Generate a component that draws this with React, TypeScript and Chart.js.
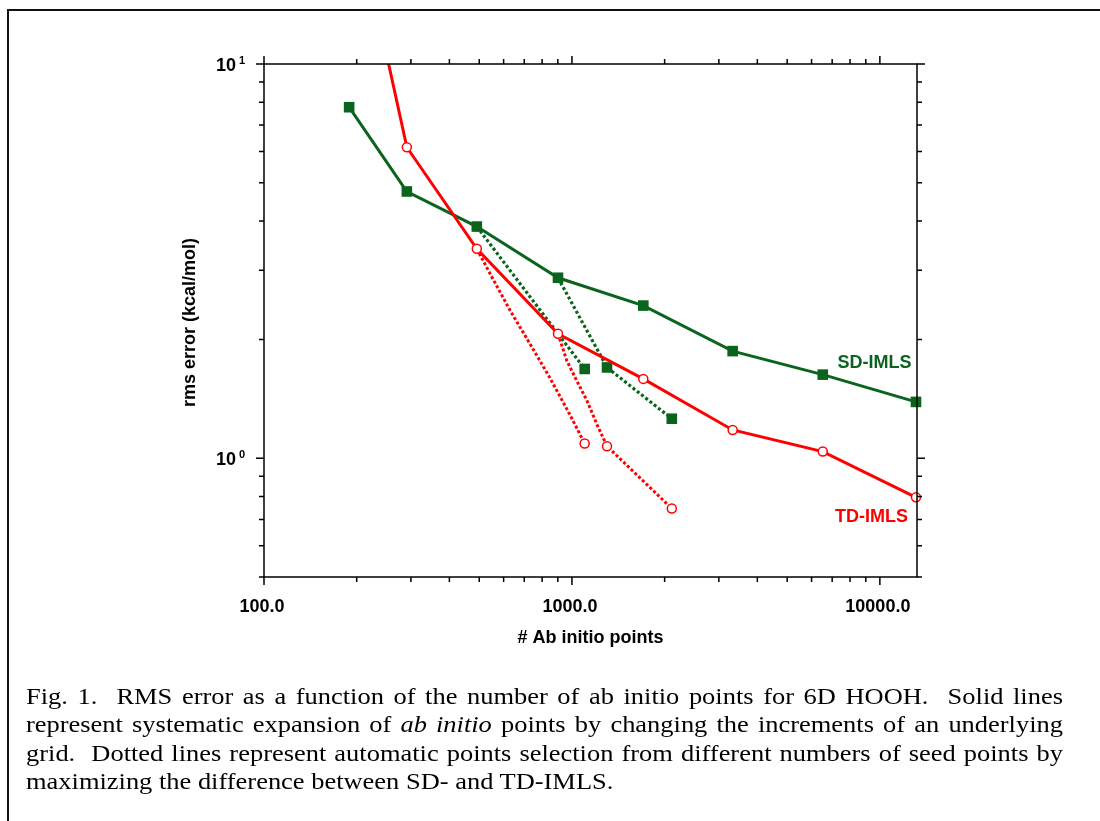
import React, { useEffect, useRef } from "react";
import { Chart, registerables } from "chart.js";

Chart.register(...registerables);

// ---------- data ----------
const gridPointsX = [189, 291, 491, 901, 1705, 3326, 6525, 13100];
const sdGridRms = [7.77, 4.75, 3.87, 2.87, 2.44, 1.87, 1.63, 1.39];
const tdGridRms = [28.7, 6.15, 3.4, 2.07, 1.59, 1.18, 1.04, 0.796];

// automatic selection from 491 seed points
const sdSeedAX = [491, 1100];
const sdSeedARms = [3.87, 1.685];
const tdSeedAX = [491, 542, 630, 731, 848, 985, 1100];
const tdSeedARms = [3.4, 2.94, 2.37, 1.95, 1.6, 1.29, 1.09];
const tdSeedAMarked = [0, 0, 0, 0, 0, 0, 1];

// automatic selection from 901 seed points
const sdSeedBX = [901, 1300, 2110];
const sdSeedBRms = [2.87, 1.7, 1.26];
const tdSeedBX = [901, 963, 1038, 1119, 1205, 1300, 2110];
const tdSeedBRms = [2.07, 1.766, 1.57, 1.4, 1.22, 1.073, 0.746];
const tdSeedBMarked = [0, 0, 0, 0, 0, 1, 1];

const xTickValues = [100, 1000, 10000];
const xTickLabels = ["100.0", "1000.0", "10000.0"];
const yTickValues = [1, 10];
const yTickExponents = ["0", "1"];

const seriesNames = ["SD-IMLS", "TD-IMLS"];
const seriesLabelAt = [
  [9600, 1.745],
  [9400, 0.708],
];

const xTitle = "# Ab initio points";
const yTitle = "rms error (kcal/mol)";

const X_MIN = 100;
const X_MAX = 13200;
const Y_MIN = 0.5;
const Y_MAX = 10;

const GREEN = "#0a641e";
const RED = "#ff0000";
const FONT = "'Liberation Sans', Arial, Helvetica, sans-serif";

const pts = (xs: number[], ys: number[]) => xs.map((x, i) => ({ x, y: ys[i] }));

const frameAxesPlugin = {
  id: "frameAxes",
  afterDatasetsDraw(chart: any) {
    const { ctx, chartArea, scales } = chart;
    const { left, right, top, bottom } = chartArea;
    const xs = scales.x;
    const ys = scales.y;
    ctx.save();
    ctx.strokeStyle = "#000";
    ctx.lineWidth = 1.5;
    ctx.beginPath();
    ctx.rect(left, top, right - left, bottom - top);
    ctx.stroke();

    // x ticks (outward, top and bottom)
    ctx.beginPath();
    for (let d = 100; d <= 10000; d *= 10) {
      for (let m = 1; m <= 9; m++) {
        const v = d * m;
        if (v < X_MIN - 1e-9 || v > X_MAX) continue;
        const px = xs.getPixelForValue(v);
        const len = m === 1 ? 8 : 5;
        ctx.moveTo(px, bottom);
        ctx.lineTo(px, bottom + len);
        ctx.moveTo(px, top);
        ctx.lineTo(px, top - len);
      }
    }
    // y ticks (outward, left and right)
    for (let d = 0.1; d <= 10; d *= 10) {
      for (let m = 1; m <= 9; m++) {
        const v = +(d * m).toPrecision(6);
        if (v < Y_MIN - 1e-9 || v > Y_MAX + 1e-9) continue;
        const py = ys.getPixelForValue(v);
        const len = m === 1 ? 8 : 5;
        ctx.moveTo(left, py);
        ctx.lineTo(left - len, py);
        ctx.moveTo(right, py);
        ctx.lineTo(right + len, py);
      }
    }
    ctx.stroke();

    ctx.fillStyle = "#000";
    // x tick labels
    ctx.font = `bold 18px ${FONT}`;
    ctx.textAlign = "center";
    ctx.textBaseline = "alphabetic";
    xTickValues.forEach((v, i) => {
      ctx.fillText(xTickLabels[i], xs.getPixelForValue(v) - 2, bottom + 35);
    });
    // y tick labels with superscript exponent
    yTickValues.forEach((v, i) => {
      const py = ys.getPixelForValue(v);
      ctx.font = `bold 18px ${FONT}`;
      ctx.textAlign = "right";
      ctx.fillText("10", left - 28, py + 7);
      ctx.font = `bold 11px ${FONT}`;
      ctx.textAlign = "left";
      ctx.fillText(yTickExponents[i], left - 25, py);
    });

    // axis titles
    ctx.font = `bold 18px ${FONT}`;
    ctx.textAlign = "center";
    ctx.textBaseline = "middle";
    ctx.fillText(xTitle, (left + right) / 2, bottom + 61);
    ctx.save();
    ctx.translate(left - 74, (top + bottom) / 2 + 2);
    ctx.rotate(-Math.PI / 2);
    ctx.fillText(yTitle, 0, 0);
    ctx.restore();

    // series labels
    const colors = [GREEN, RED];
    seriesNames.forEach((name, i) => {
      ctx.fillStyle = colors[i];
      ctx.fillText(
        name,
        xs.getPixelForValue(seriesLabelAt[i][0]),
        ys.getPixelForValue(seriesLabelAt[i][1])
      );
    });
    ctx.restore();
  },
};

function ChartCanvas() {
  const ref = useRef<HTMLCanvasElement | null>(null);
  useEffect(() => {
    if (!ref.current) return;
    const markRadius = (flags: number[], r: number) => (c: any) =>
      flags[c.dataIndex] ? r : 0;
    const redPoint = {
      pointStyle: "circle",
      pointBackgroundColor: "#ffffff",
      pointBorderColor: RED,
      pointBorderWidth: 1.5,
    };
    const greenPoint = {
      pointStyle: "rect",
      pointBackgroundColor: GREEN,
      pointBorderColor: GREEN,
      pointBorderWidth: 0,
    };
    const chart = new Chart(ref.current, {
      type: "line",
      data: {
        datasets: [
          {
            label: "TD-IMLS grid",
            data: pts(gridPointsX, tdGridRms),
            borderColor: RED,
            borderWidth: 3,
            pointRadius: 4.5,
            ...redPoint,
            order: 0,
            clip: { left: false, top: 0, right: false, bottom: false },
          } as any,
          {
            label: "TD-IMLS seed 901",
            data: pts(tdSeedBX, tdSeedBRms),
            borderColor: RED,
            borderWidth: 3,
            borderDash: [3, 2.2],
            pointRadius: markRadius(tdSeedBMarked, 4.5),
            ...redPoint,
            order: 1,
            clip: false,
          },
          {
            label: "TD-IMLS seed 491",
            data: pts(tdSeedAX, tdSeedARms),
            borderColor: RED,
            borderWidth: 3,
            borderDash: [3, 2.2],
            pointRadius: markRadius(tdSeedAMarked, 4.5),
            ...redPoint,
            order: 2,
            clip: false,
          },
          {
            label: "SD-IMLS seed 901",
            data: pts(sdSeedBX, sdSeedBRms),
            borderColor: GREEN,
            borderWidth: 3.2,
            borderDash: [3, 2.4],
            pointRadius: (c: any) => (c.dataIndex === 0 ? 0 : 7.5),
            ...greenPoint,
            order: 3,
            clip: false,
          },
          {
            label: "SD-IMLS seed 491",
            data: pts(sdSeedAX, sdSeedARms),
            borderColor: GREEN,
            borderWidth: 3.2,
            borderDash: [3, 2.4],
            pointRadius: (c: any) => (c.dataIndex === 0 ? 0 : 7.5),
            ...greenPoint,
            order: 4,
            clip: false,
          },
          {
            label: "SD-IMLS grid",
            data: pts(gridPointsX, sdGridRms),
            borderColor: GREEN,
            borderWidth: 3,
            pointRadius: 7.5,
            ...greenPoint,
            order: 5,
            clip: false,
          },
        ] as any,
      },
      options: {
        animation: false,
        responsive: false,
        devicePixelRatio: 1,
        layout: { padding: { left: 264, top: 64, right: 183, bottom: 244 } },
        elements: { line: { tension: 0 } },
        scales: {
          x: { type: "logarithmic", min: X_MIN, max: X_MAX, display: false },
          y: { type: "logarithmic", min: Y_MIN, max: Y_MAX, display: false },
        },
        plugins: {
          legend: { display: false },
          tooltip: { enabled: false },
          title: { display: false },
        },
      },
      plugins: [frameAxesPlugin],
    } as any);
    return () => chart.destroy();
  }, []);
  return (
    <canvas
      ref={ref}
      width={1100}
      height={821}
      style={{ position: "absolute", left: 0, top: 0, width: 1100, height: 821 }}
    />
  );
}

const captionLines = [
  "Fig. 1.\u00a0 RMS error as a function of the number of ab initio points for 6D HOOH.\u00a0 Solid lines",
  null,
  "grid.\u00a0 Dotted lines represent automatic points selection from different numbers of seed points by",
  "maximizing the difference between SD- and TD-IMLS.",
];

const CAPTION_STRETCH = 1.15;

export default function App() {
  const lineStyle: React.CSSProperties = {
    textAlign: "justify",
    textAlignLast: "justify",
    whiteSpace: "nowrap",
    height: 28.3,
  };
  return (
    <div
      style={{
        position: "fixed",
        left: 0,
        top: 0,
        width: 1100,
        height: 821,
        overflow: "hidden",
        background: "#fff",
      }}
    >
      <div
        style={{
          position: "absolute",
          left: 7,
          top: 9,
          width: 1200,
          height: 900,
          border: "2px solid #111",
          boxSizing: "border-box",
        }}
      />
      <ChartCanvas />
      <div
        style={{
          position: "absolute",
          left: 26,
          top: 683,
          width: 1037 / CAPTION_STRETCH,
          transform: `scaleX(${CAPTION_STRETCH})`,
          transformOrigin: "0 0",
          fontFamily: "'Liberation Serif', 'Times New Roman', serif",
          fontSize: 23,
          lineHeight: "28.3px",
          color: "#000",
        }}
      >
        <div style={lineStyle}>{captionLines[0]}</div>
        <div style={lineStyle}>
          represent systematic expansion of <i>ab initio</i> points by changing the increments of an underlying
        </div>
        <div style={lineStyle}>{captionLines[2]}</div>
        <div style={{ height: 28.3, whiteSpace: "nowrap" }}>{captionLines[3]}</div>
      </div>
    </div>
  );
}
